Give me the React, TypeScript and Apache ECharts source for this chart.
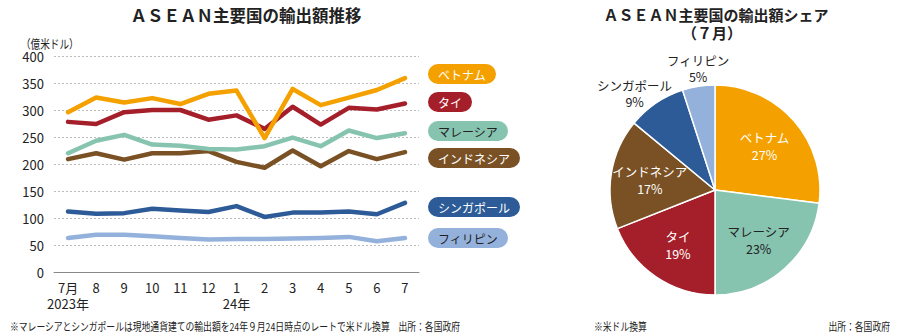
import React, { useEffect, useRef } from 'react';
import * as echarts from 'echarts';

// ---- Line chart data ----
const months = ['7月\n2023年', '8', '9', '10', '11', '12', '1\n24年', '2', '3', '4', '5', '6', '7'];
const countries = ['ベトナム', 'タイ', 'マレーシア', 'インドネシア', 'シンガポール', 'フィリピン'];
const countryColors = ['#F4A100', '#A51F2B', '#86C4B0', '#7A5124', '#2C5B98', '#94B1DC'];
const legendTextColors = ['#ffffff', '#ffffff', '#222222', '#ffffff', '#ffffff', '#222222'];

const vietnam = [296, 323, 314, 322, 311, 330, 336, 248, 339, 309, 323, 337, 359];
const thailand = [278, 274, 296, 300, 300, 282, 290, 265, 306, 273, 304, 301, 312];
const malaysia = [220, 243, 254, 236, 234, 228, 227, 233, 249, 233, 262, 248, 257];
const indonesia = [209, 220, 208, 220, 220, 224, 204, 193, 225, 196, 224, 209, 222];
const singapore = [112, 108, 109, 117, 114, 111, 122, 102, 110, 110, 112, 107, 128];
const philippines = [63, 69, 69, 66, 63, 60, 61, 61, 62, 63, 65, 57, 63];
const seriesValues = [vietnam, thailand, malaysia, indonesia, singapore, philippines];

const yMin = 0;
const yMax = 400;
const yInterval = 50;

// ---- Pie data (share in July, %) ----
const pieNames = ['ベトナム', 'マレーシア', 'タイ', 'インドネシア', 'シンガポール', 'フィリピン'];
const pieShares = [27, 23, 19, 17, 9, 5];
const pieLabelColors = ['#ffffff', '#222222', '#ffffff', '#ffffff', '#222222', '#222222'];
const pieOutside = [false, false, false, false, true, true];

// ---- Texts ----
const leftTitle = 'ＡＳＥＡＮ主要国の輸出額推移';
const rightTitle1 = 'ＡＳＥＡＮ主要国の輸出額シェア';
const rightTitle2 = '（７月）';
const unitLabel = '（億米ドル）';
const noteLeft = '※マレーシアとシンガポールは現地通貨建ての輸出額を24年９月24日時点のレートで米ドル換算　出所：各国政府';
const noteMid = '※米ドル換算';
const noteRight = '出所：各国政府';

const FONT = '"Noto Sans CJK JP", "Noto Sans", sans-serif';
const TEXT = '#222222';

const legendY = [74, 102, 131, 158, 207, 238];

export default function App() {
  const ref = useRef<HTMLDivElement>(null);

  useEffect(() => {
    if (!ref.current) return;
    const chart = echarts.init(ref.current, undefined, { renderer: 'svg' });

    const colorOf = (name: string) => countryColors[countries.indexOf(name)];
    const pieData = pieNames.map((n, i) => ({ name: n, value: pieShares[i] }));

    const option: any = {
      animation: false,
      backgroundColor: '#ffffff',
      textStyle: { fontFamily: FONT },
      grid: { left: 54, right: 481, top: 56, bottom: 64, containLabel: false },
      xAxis: {
        type: 'category',
        data: months,
        boundaryGap: true,
        axisLine: { show: true, lineStyle: { color: '#888888', width: 1 } },
        axisTick: { show: false },
        axisLabel: {
          interval: 0,
          color: TEXT,
          fontSize: 13,
          lineHeight: 16,
          margin: 7,
          fontFamily: FONT,
        },
      },
      yAxis: {
        type: 'value',
        min: yMin,
        max: yMax,
        interval: yInterval,
        axisLine: { show: false },
        axisTick: { show: false },
        axisLabel: { color: TEXT, fontSize: 13, margin: 10, fontFamily: FONT },
        splitLine: { show: true, lineStyle: { color: '#aaaaaa', width: 0.8, type: [2, 2] } },
      },
      series: [
        ...countries.map((name, i) => ({
          type: 'line',
          name,
          data: seriesValues[i],
          symbol: 'none',
          lineStyle: { color: countryColors[i], width: 4.5, join: 'round', cap: 'round' },
          itemStyle: { color: countryColors[i] },
          z: 10 - i,
        })),
        {
          type: 'pie',
          center: [715, 190],
          radius: [0, 105],
          startAngle: 90,
          clockwise: true,
          silent: true,
          data: pieData.map((d) => ({
            ...d,
            itemStyle: { color: colorOf(d.name), borderColor: '#ffffff', borderWidth: 1.5 },
          })),
          label: { show: false },
          labelLine: { show: false },
        },
        {
          type: 'pie',
          center: [715, 190],
          radius: [21, 105],
          startAngle: 90,
          clockwise: true,
          silent: true,
          data: pieData.map((d, i) => ({
            ...d,
            itemStyle: { color: 'rgba(0,0,0,0)', borderWidth: 0 },
            label: { show: !pieOutside[i], color: pieLabelColors[i] },
          })),
          label: {
            position: 'inside',
            formatter: '{b}\n{c}%',
            fontSize: 12.5,
            lineHeight: 17,
            fontFamily: FONT,
          },
          labelLine: { show: false },
        },
        {
          type: 'pie',
          center: [715, 190],
          radius: [105, 143],
          startAngle: 90,
          clockwise: true,
          silent: true,
          data: pieData.map((d, i) => ({
            ...d,
            itemStyle: { color: 'rgba(0,0,0,0)', borderWidth: 0 },
            label: { show: pieOutside[i], color: pieLabelColors[i] },
          })),
          label: {
            position: 'inside',
            formatter: '{b}\n{c}%',
            fontSize: 12.5,
            lineHeight: 16,
            fontFamily: FONT,
          },
          labelLayout: (p: any) => (p.dataIndex === 4 ? { dx: -9, dy: 9 } : p.dataIndex === 5 ? { dx: 3, dy: 4 } : {}),
          labelLine: { show: false },
        },
      ],
      graphic: [
        {
          type: 'text',
          x: 246,
          y: 15,
          style: { text: leftTitle, fill: TEXT, font: `bold 16.5px ${FONT}`, align: 'center', verticalAlign: 'middle' },
        },
        {
          type: 'text',
          x: 716,
          y: 14,
          style: { text: rightTitle1, fill: TEXT, font: `bold 15px ${FONT}`, align: 'center', verticalAlign: 'middle' },
        },
        {
          type: 'text',
          x: 712,
          y: 32,
          style: { text: rightTitle2, fill: TEXT, font: `bold 15px ${FONT}`, align: 'center', verticalAlign: 'middle' },
        },
        {
          type: 'text',
          x: 21,
          y: 43,
          scaleX: 0.8,
          style: { text: unitLabel, fill: TEXT, font: `12px ${FONT}`, align: 'left', verticalAlign: 'middle' },
        },
        ...countries.map((name, i) => ({
          type: 'text',
          x: 428,
          y: legendY[i],
          z: 100,
          style: {
            text: name,
            fill: legendTextColors[i],
            backgroundColor: countryColors[i],
            borderRadius: 10,
            padding: [3, 10, 3, 10],
            font: `12px ${FONT}`,
            lineHeight: 14,
            align: 'left',
            verticalAlign: 'middle',
          },
        })),
        {
          type: 'text',
          x: 10,
          y: 326,
          scaleX: 0.8,
          style: { text: noteLeft, fill: TEXT, font: `11px ${FONT}`, align: 'left', verticalAlign: 'middle' },
        },
        {
          type: 'text',
          x: 594,
          y: 326,
          scaleX: 0.8,
          style: { text: noteMid, fill: TEXT, font: `11px ${FONT}`, align: 'left', verticalAlign: 'middle' },
        },
        {
          type: 'text',
          x: 890,
          y: 326,
          scaleX: 0.8,
          style: { text: noteRight, fill: TEXT, font: `11px ${FONT}`, align: 'right', verticalAlign: 'middle' },
        },
      ],
    };

    chart.setOption(option);
    return () => chart.dispose();
  }, []);

  return (
    <div
      ref={ref}
      style={{ position: 'fixed', left: 0, top: 0, width: 900, height: 336, background: '#ffffff' }}
    />
  );
}
